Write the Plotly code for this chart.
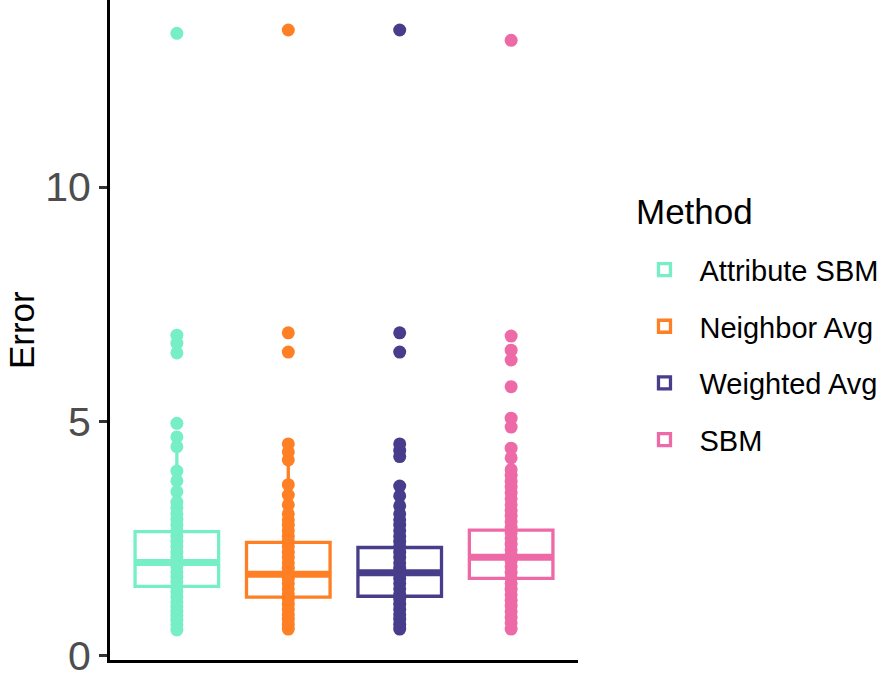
import plotly.graph_objects as go

# ---- data ----
methods = ["Attribute SBM", "Neighbor Avg", "Weighted Avg", "SBM"]
colors = ["#76EEC6", "#FF7F24", "#483D8B", "#EE6AA7"]
y_ticks = [0, 5, 10]
y_title = "Error"
legend_title = "Method"

q1 = [1.48, 1.25, 1.27, 1.65]
median = [1.99, 1.74, 1.77, 2.10]
q3 = [2.65, 2.42, 2.31, 2.68]
lower_whisker = [0.55, 0.57, 0.57, 0.57]
upper_whisker = [4.46, 4.52, 3.62, 4.22]

attr_points = [13.28, 6.84, 6.67, 6.46, 4.96, 4.67, 4.46, 3.94, 3.73, 3.50,
               3.28, 3.16, 3.03, 2.91, 2.79, 2.67, 2.55, 2.44, 2.33, 2.21,
               2.10, 2.00, 1.90, 1.79, 1.68, 1.58, 1.47, 1.37, 1.26, 1.15,
               1.05, 0.95, 0.86, 0.76, 0.66, 0.55]
neigh_points = [13.35, 6.89, 6.48, 4.52, 4.35, 4.18, 3.65, 3.43, 3.22, 3.03,
                2.90, 2.79, 2.67, 2.55, 2.44, 2.33, 2.21, 2.10, 1.98, 1.87,
                1.76, 1.65, 1.54, 1.43, 1.32, 1.21, 1.10, 0.99, 0.88, 0.78,
                0.67, 0.57]
weight_points = [13.35, 6.89, 6.48, 4.52, 4.38, 4.25, 3.62, 3.41, 3.20, 3.03,
                 2.90, 2.79, 2.67, 2.55, 2.44, 2.33, 2.21, 2.10, 1.98, 1.87,
                 1.76, 1.65, 1.54, 1.43, 1.32, 1.21, 1.10, 0.99, 0.88, 0.78,
                 0.67, 0.57]
sbm_points = [13.13, 6.82, 6.52, 6.31, 5.74, 5.07, 4.88, 4.43, 4.22, 3.97,
              3.85, 3.72, 3.60, 3.48, 3.35, 3.22, 3.10, 2.98, 2.86, 2.74,
              2.62, 2.50, 2.38, 2.26, 2.14, 2.02, 1.90, 1.78, 1.66, 1.54,
              1.42, 1.30, 1.18, 1.06, 0.94, 0.82, 0.70, 0.57]
points = [attr_points, neigh_points, weight_points, sbm_points]

all_vals = [v for p in points for v in p]
vmin, vmax = min(all_vals), max(all_vals)
span = vmax - vmin
y_range = [vmin - 0.05 * span, vmax + 0.05 * span]

BOX_W = 0.75
FONT = "Liberation Sans, Arial, Helvetica, sans-serif"

fig = go.Figure()
for i, m in enumerate(methods):
    fig.add_trace(go.Box(
        x=[i], q1=[q1[i]], median=[median[i]], q3=[q3[i]],
        lowerfence=[lower_whisker[i]], upperfence=[upper_whisker[i]],
        width=BOX_W, whiskerwidth=0,
        line=dict(color=colors[i], width=3.3),
        fillcolor="rgba(255,255,255,0)",
        name=m, legendgroup=m, showlegend=True,
        boxpoints=False, hoverinfo="skip",
    ))
for i, m in enumerate(methods):
    fig.add_trace(go.Scatter(
        x=[i - BOX_W / 2, i + BOX_W / 2], y=[median[i], median[i]],
        mode="lines", line=dict(color=colors[i], width=7),
        showlegend=False, legendgroup=m, hoverinfo="skip",
    ))
for i, m in enumerate(methods):
    fig.add_trace(go.Scatter(
        x=[i] * len(points[i]), y=points[i], mode="markers",
        marker=dict(color=colors[i], size=13, line=dict(width=0)),
        showlegend=False, legendgroup=m, hoverinfo="skip",
    ))

fig.update_layout(
    width=887, height=674,
    margin=dict(l=110, r=309, t=0, b=14, autoexpand=False),
    plot_bgcolor="white", paper_bgcolor="white",
    font=dict(family=FONT, color="black"),
    boxmode="overlay",
    xaxis=dict(range=[-0.6, 3.6], showticklabels=False, ticks="",
               showgrid=False, zeroline=False, showline=True,
               linecolor="black", linewidth=3, automargin=False),
    yaxis=dict(range=y_range, tickvals=y_ticks, ticktext=[str(t) for t in y_ticks],
               ticks="outside", ticklen=8, tickwidth=2.5, tickcolor="#333333",
               tickfont=dict(size=41, color="#4D4D4D"), ticklabeloverflow="allow",
               showgrid=False, zeroline=False, showline=True, automargin=False,
               linecolor="black", linewidth=3),
    legend=dict(
        font=dict(size=29, color="black"),
        x=1.11, xanchor="left", y=0.630, yanchor="top",
        tracegroupgap=16, itemwidth=60, bgcolor="rgba(0,0,0,0)",
    ),
    annotations=[
        dict(text=legend_title, xref="paper", yref="paper",
             x=1.12, y=0.68, xanchor="left", yanchor="middle",
             showarrow=False, font=dict(size=35, color="black")),
        dict(text=y_title, xref="paper", yref="paper", textangle=-90,
             x=-0.19, y=0.5, xanchor="center", yanchor="middle",
             showarrow=False, font=dict(size=35, color="black")),
    ],
)

fig.write_html("out.html", post_script="document.body.style.margin='0';",
               config={"displayModeBar": False})
